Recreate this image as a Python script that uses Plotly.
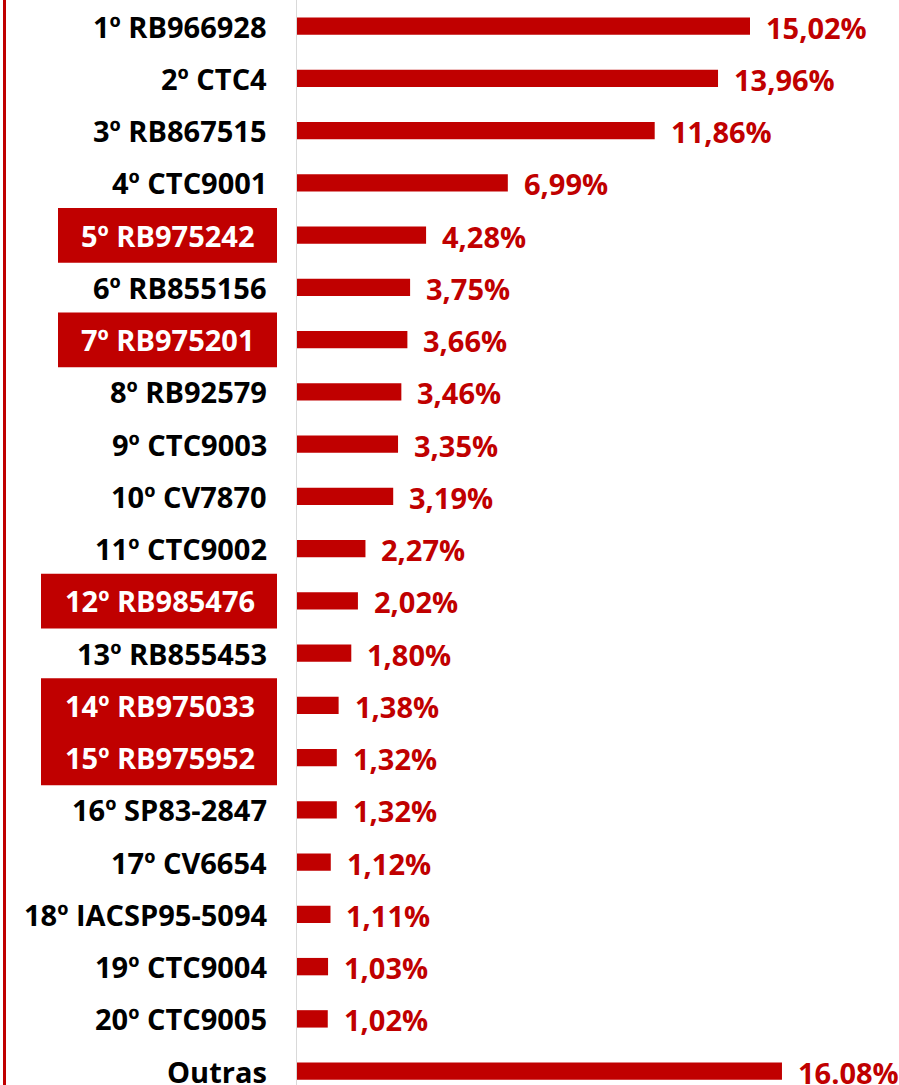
import plotly.graph_objects as go

categories = ["1º RB966928", "2º CTC4", "3º RB867515", "4º CTC9001", "5º RB975242",
              "6º RB855156", "7º RB975201", "8º RB92579", "9º CTC9003", "10º CV7870",
              "11º CTC9002", "12º RB985476", "13º RB855453", "14º RB975033", "15º RB975952",
              "16º SP83-2847", "17º CV6654", "18º IACSP95-5094", "19º CTC9004", "20º CTC9005",
              "Outras"]
values = [15.02, 13.96, 11.86, 6.99, 4.28, 3.75, 3.66, 3.46, 3.35, 3.19,
          2.27, 2.02, 1.80, 1.38, 1.32, 1.32, 1.12, 1.11, 1.03, 1.02, 16.08]
value_labels = ["15,02%", "13,96%", "11,86%", "6,99%", "4,28%", "3,75%", "3,66%", "3,46%",
                "3,35%", "3,19%", "2,27%", "2,02%", "1,80%", "1,38%", "1,32%", "1,32%",
                "1,12%", "1,11%", "1,03%", "1,02%", "16.08%"]
highlighted = ["5º RB975242", "7º RB975201", "12º RB985476", "14º RB975033", "15º RB975952"]
# highlight box groups: (first category, last category, left edge px)
highlight_groups = [("5º RB975242", "5º RB975242", 58),
                    ("7º RB975201", "7º RB975201", 58),
                    ("12º RB985476", "12º RB985476", 41),
                    ("14º RB975033", "15º RB975952", 41)]

RED = "#C00000"
FONT = "Open Sans"
FS = 29
W, H = 899, 1085
L = 297
PW = W - L
n = len(categories)
row_px = 52.25
y_bottom = -0.5 + H / row_px

fig = go.Figure(go.Bar(
    x=values, y=categories, orientation="h",
    marker=dict(color=RED, line=dict(width=0)),
    width=0.333,
))

annotations = []
for c, v, t in zip(categories, values, value_labels):
    annotations.append(dict(x=v, y=c, xref="x", yref="y", text=t, showarrow=False,
                            xanchor="left", yanchor="middle", xshift=14, yshift=-1,
                            font=dict(family=FONT, size=FS, color=RED, weight=700)))
    hl = c in highlighted
    annotations.append(dict(x=0, y=c, xref="paper", yref="y", text=c, showarrow=False,
                            xanchor="right", yanchor="middle",
                            xshift=-40 if hl else -28,
                            font=dict(family=FONT, size=FS, color="white" if hl else "black",
                                      weight=700)))

shapes = []
for a, b, left in highlight_groups:
    i0 = categories.index(a)
    i1 = categories.index(b)
    shapes.append(dict(type="rect", xref="paper", yref="y",
                       x0=(left - L) / PW, x1=(277 - L) / PW,
                       y0=i0 - 0.52, y1=i1 + 0.53,
                       fillcolor=RED, line=dict(width=0), layer="below"))
shapes.append(dict(type="line", xref="paper", yref="paper",
                   x0=(4.5 - L) / PW, x1=(4.5 - L) / PW, y0=0, y1=1,
                   line=dict(color=RED, width=3)))

fig.update_layout(
    width=W, height=H,
    margin=dict(l=L, r=0, t=0, b=0, pad=0),
    plot_bgcolor="white", paper_bgcolor="white",
    showlegend=False,
    annotations=annotations,
    shapes=shapes,
    xaxis=dict(range=[0, PW / 30.16], showgrid=False, zeroline=False,
               showticklabels=False, showline=False, fixedrange=True),
    yaxis=dict(categoryorder="array", categoryarray=categories,
               range=[y_bottom, -0.5], showgrid=False, zeroline=False,
               showticklabels=False, showline=True, linecolor="#D9D9D9", linewidth=1,
               ticks=""),
)

fig.write_html("out.html", config={"displayModeBar": False},
               post_script="document.body.style.margin='0px';document.body.style.overflow='hidden';")
